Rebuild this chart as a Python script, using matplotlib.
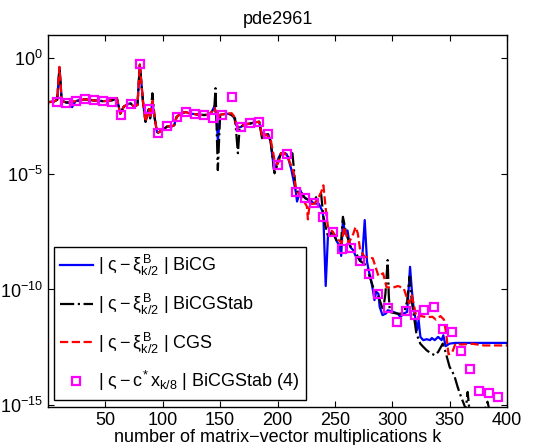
import numpy as np
import matplotlib
matplotlib.use("Agg")
import matplotlib.pyplot as plt

plt.rcParams['font.family'] = ['Liberation Sans', 'DejaVu Sans']
plt.rcParams['mathtext.fontset'] = 'custom'
plt.rcParams['mathtext.rm'] = 'Liberation Sans'
plt.rcParams['mathtext.it'] = 'Liberation Sans'
plt.rcParams['mathtext.bf'] = 'Liberation Sans:bold'

#=============================================================================
# data (k, log10 of the error)
#=============================================================================
bicg_k = [1, 5, 8, 10, 12, 16, 19, 21, 24, 28, 32, 36, 40, 44, 48, 52, 56, 60,
          63, 66, 70, 72, 75, 78, 80, 83, 85, 87, 88, 89, 91, 93, 95, 96, 100,
          104, 108, 110, 112, 116, 120, 124, 128, 132, 136, 140, 143, 145, 147,
          148, 150, 152, 156, 159, 162, 164, 166, 168, 172, 176, 180, 184, 186,
          188, 192, 194, 197, 199, 201, 203, 206, 208, 210, 212, 214, 216, 217,
          220, 222, 224, 228, 232, 236, 239, 240, 242, 244, 246, 248, 250, 252,
          254, 255.5, 257, 259, 261, 263, 264, 266, 268, 270, 272, 274, 276,
          278, 280, 281, 283, 284.5, 286, 288, 289, 291.5, 294.5, 296, 301, 305,
          307, 310, 313, 315.5, 317, 318.5, 320, 321.5, 323, 324.5, 327, 330,
          333, 334.5, 337, 340, 343, 344.5, 346.5, 350, 355, 400]
bicg_log = [-1.90, -1.88, -1.80, -0.40, -1.85, -1.92, -1.95, -2.12, -1.86, -1.82,
            -1.78, -1.80, -1.83, -1.84, -1.86, -1.85, -1.82, -1.73, -2.40, -2.10,
            -1.98, -1.96, -2.10, -2.02, -0.28, -2.00, -2.75, -2.30, -2.20, -2.60,
            -1.90, -2.60, -3.20, -3.22, -3.10, -2.95, -2.95, -2.90, -2.55, -2.38,
            -2.33, -2.40, -2.42, -2.45, -2.46, -2.45, -2.30, -2.08, -2.60, -3.60,
            -2.45, -2.43, -2.40, -2.42, -2.55, -2.90, -3.00, -2.98, -2.85, -2.83,
            -2.78, -2.75, -3.20, -3.30, -3.30, -3.60, -4.85, -4.60, -4.30, -4.12,
            -4.10, -4.15, -4.45, -4.80, -5.30, -5.79, -6.20, -5.72, -5.95, -6.05,
            -6.15, -6.28, -6.30, -6.60, -6.88, -9.85, -7.65, -7.55, -7.52, -7.70,
            -7.95, -8.10, -8.55, -7.00, -7.60, -7.45, -8.10, -8.20, -8.30, -8.55,
            -8.60, -8.77, -8.50, -7.00, -8.80, -9.30, -9.45, -10.00, -10.46,
            -10.10, -10.19, -10.75, -11.11, -11.04, -10.90, -10.97, -11.05,
            -11.19, -11.04, -10.97, -9.02, -10.00, -10.75, -11.19, -11.76, -11.33,
            -12.05, -12.19, -12.15, -12.19, -12.10, -12.19, -12.05, -12.19,
            -11.98, -12.45, -12.34, -12.31, -12.31]

bicgstab_k = [1, 5, 8, 10, 12, 16, 20, 24, 28, 32, 36, 40, 44, 48, 52, 56, 60,
              63, 66, 70, 72, 75, 78, 80, 83, 85, 87, 88, 89, 91, 93, 95, 96,
              100, 104, 108, 110, 112, 116, 120, 124, 128, 132, 136, 140, 143,
              145, 146, 148, 150, 152, 156, 160, 163, 165.5, 167, 170, 176, 180,
              184, 186.5, 189, 192, 194, 197.4, 200, 203, 206, 210, 213, 214.5,
              216, 220, 224, 228, 232, 234, 238, 240, 244, 248, 252, 255, 257,
              260, 264, 268, 272, 276, 280, 284, 288, 290, 292, 294, 296, 297,
              298, 300, 305, 310, 313, 315, 317, 319, 321, 324.4, 327, 330, 334,
              337, 340, 344, 346, 350, 354, 357, 360, 362.8, 364, 365.7, 367,
              370, 380, 383, 385, 400]
bicgstab_log = [-1.90, -1.88, -1.80, -0.45, -1.85, -1.92, -1.90, -1.86, -1.82,
                -1.78, -1.80, -1.83, -1.84, -1.86, -1.85, -1.82, -1.73, -2.40,
                -2.10, -1.98, -1.96, -2.10, -2.02, -0.30, -2.00, -2.75, -2.30,
                -2.20, -2.60, -1.52, -2.60, -3.20, -3.22, -3.10, -2.95, -2.95,
                -2.90, -2.55, -2.38, -2.33, -2.40, -2.42, -2.45, -2.46, -2.45,
                -2.30, -2.10, -1.30, -4.84, -2.45, -2.43, -2.40, -2.45, -2.60,
                -4.11, -3.00, -2.90, -2.83, -2.78, -2.75, -3.46, -3.30, -3.30,
                -3.60, -4.98, -4.60, -4.12, -4.10, -4.30, -4.11, -4.90, -5.79,
                -5.75, -6.05, -6.15, -6.10, -6.00, -5.87, -6.88, -7.72, -7.52,
                -7.95, -8.20, -6.86, -7.60, -8.20, -8.40, -8.77, -8.90, -9.40,
                -10.00, -10.30, -10.60, -10.90, -10.20, -8.73, -10.30, -10.97,
                -11.00, -11.05, -11.04, -10.50, -9.45, -10.50, -11.20, -11.90,
                -12.34, -12.48, -12.63, -12.77, -12.84, -12.70, -12.34, -12.63,
                -13.35, -13.71, -14.22, -14.65, -15.00, -15.20, -14.43, -15.10,
                -15.30, -15.30, -14.85, -15.30, -15.50]

cgs_k = [1, 5, 8, 10, 12, 16, 20, 24, 28, 32, 36, 40, 44, 48, 52, 56, 60, 63,
         66, 70, 72, 75, 78, 80, 83, 85, 87, 88, 89, 91, 93, 95, 96, 100, 104,
         108, 110, 112, 116, 120, 124, 128, 132, 136, 140, 143, 145, 147, 148,
         150, 152, 156, 160, 162, 164, 166, 168, 172, 176, 180, 184, 187, 190,
         194, 197.4, 200, 203, 206, 210, 214.3, 216, 219, 222, 225.6, 226.5,
         228, 232, 236, 238, 240, 242, 244, 248, 252, 256, 258, 262, 266, 268,
         270, 272, 276, 283, 288, 292, 295, 300, 305, 310, 313, 315, 317, 319,
         321, 325, 330, 335, 338, 342, 345, 347, 349, 352, 355, 360, 370, 380,
         400]
cgs_log = [-1.90, -1.88, -1.80, -0.38, -1.85, -1.92, -1.90, -1.86, -1.82, -1.78,
           -1.80, -1.83, -1.84, -1.86, -1.85, -1.82, -1.73, -2.40, -2.10, -1.98,
           -1.96, -2.10, -2.02, -0.28, -2.00, -2.75, -2.30, -2.20, -2.60, -1.85,
           -2.60, -3.20, -3.22, -3.10, -2.95, -2.95, -2.90, -2.55, -2.38, -2.33,
           -2.40, -2.42, -2.45, -2.46, -2.45, -2.30, -2.15, -2.40, -2.60, -2.45,
           -2.43, -2.40, -2.38, -2.50, -2.85, -3.00, -2.98, -2.85, -2.83, -2.78,
           -2.75, -3.46, -3.30, -3.50, -4.40, -4.60, -4.12, -4.10, -4.40, -4.98,
           -5.70, -5.90, -6.10, -6.41, -6.97, -6.30, -6.30, -6.00, -5.80, -5.50,
           -6.50, -7.30, -7.50, -7.80, -8.00, -7.30, -8.00, -7.60, -7.30, -7.58,
           -8.30, -8.59, -8.65, -9.42, -9.30, -9.90, -9.93, -9.85, -9.95, -10.40,
           -10.60, -10.25, -10.70, -11.20, -11.15, -11.20, -11.18, -11.30, -11.15,
           -11.30, -11.90, -12.80, -12.75, -12.35, -12.38, -12.35, -12.42, -12.42]

stab4_k = [8, 16, 24, 32, 40, 48, 56, 64, 72, 80, 88, 96, 104, 112, 120, 128,
           136, 144, 152, 160, 168, 176, 184, 192, 200, 208, 216, 224, 232, 240,
           248, 256, 264, 272, 280, 288, 296, 304, 312, 320, 328, 336, 344, 352,
           360, 368, 376, 384, 392]
stab4_log = [-1.90, -1.94, -1.86, -1.78, -1.83, -1.86, -1.88, -2.47, -1.98,
             -0.26, -2.18, -3.22, -2.94, -2.53, -2.32, -2.42, -2.47, -2.60,
             -2.44, -1.68, -2.99, -2.81, -2.74, -3.28, -4.63, -4.14, -5.79,
             -6.05, -6.25, -6.88, -7.52, -8.23, -8.20, -8.77, -9.31, -10.19,
             -10.82, -11.39, -10.93, -11.10, -10.88, -10.75, -11.71, -11.85,
             -12.67, -13.45, -14.37, -14.47, -14.63]

ytick_vals = [1e-15, 1e-10, 1e-5, 1e0]
ytick_labels = [r'$10^{-15}$', r'$10^{-10}$', r'$10^{-5}$', r'$10^{0}$']
xtick_vals = [50, 100, 150, 200, 250, 300, 350, 400]

#=============================================================================
# plot
#=============================================================================
fig = plt.figure(figsize=(5.35, 4.45), dpi=100)
ax = fig.add_axes([0.0897, 0.0854, 0.858, 0.836])

ax.semilogy(bicg_k, 10.0 ** np.array(bicg_log), '-', color='#0000ff', lw=1.6,
            label=r'$|\ \varsigma - \xi^{B}_{k/2}\ |\ \mathrm{BiCG}$')
ax.semilogy(bicgstab_k, 10.0 ** np.array(bicgstab_log), '-.', color='black', lw=1.6,
            label=r'$|\ \varsigma - \xi^{B}_{k/2}\ |\ \mathrm{BiCGStab}$')
ax.semilogy(cgs_k, 10.0 ** np.array(cgs_log), '--', color='#ff0000', lw=1.6,
            label=r'$|\ \varsigma - \xi^{B}_{k/2}\ |\ \mathrm{CGS}$')
ax.semilogy(stab4_k, 10.0 ** np.array(stab4_log), 's', color='#ff00ff',
            mfc='none', mew=1.6, ms=6,
            label=r'$|\ \varsigma - c^{*}\, x_{k/8}\ |\ \mathrm{BiCGStab\ (4)}$')

ax.set_xlim(0, 400)
ax.set_ylim(10 ** -15.08, 10 ** 1.0)
ax.set_xticks(xtick_vals)
ax.set_yticks(ytick_vals)
ax.set_yticklabels(ytick_labels)
ax.minorticks_off()
ax.tick_params(direction='in', top=True, right=True, length=4, labelsize=13)
for s in ax.spines.values():
    s.set_linewidth(1)

ax.set_xlabel('number of matrix\u2212vector multiplications k', fontsize=13, labelpad=0)
ax.set_title('pde2961', fontsize=13, pad=8)

leg = ax.legend(loc='lower left', bbox_to_anchor=(0.005, 0.01), fontsize=13,
                fancybox=False, framealpha=1, edgecolor='black',
                handlelength=1.8, handletextpad=0.3, labelspacing=0.75,
                borderpad=0.35, borderaxespad=0.2)
leg.get_frame().set_linewidth(1)

fig.savefig('out.png', dpi=100)
